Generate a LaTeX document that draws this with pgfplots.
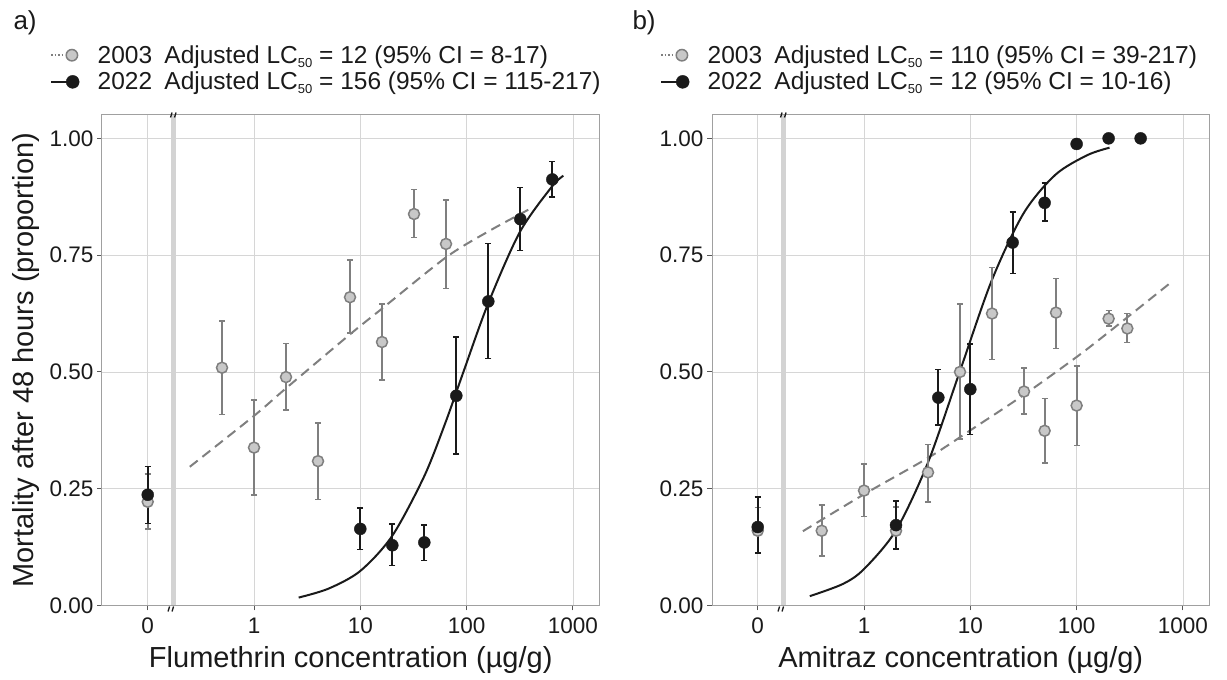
\documentclass[border=0pt]{standalone}
\usepackage{fontspec}
\setmainfont{Liberation Sans}
\usepackage{pgfplots}
\usepackage{pgfplotstable}
\pgfplotsset{compat=1.18}

\definecolor{ptgray}{HTML}{C8C8C8}
\definecolor{edgegray}{HTML}{7F7F7F}
\definecolor{gridgray}{HTML}{D6D6D6}
\definecolor{framegray}{HTML}{A0A0A0}
\definecolor{bandgray}{HTML}{D3D3D3}
\definecolor{ink}{HTML}{1A1A1A}

% ---------- data: x = concentration (0 plotted at 0.1), y, CI low, CI high
\pgfplotstableread{
x y lo hi
0.1 0.222 0.164 0.282
0.5 0.509 0.409 0.609
1 0.338 0.237 0.440
2 0.489 0.418 0.561
4 0.309 0.227 0.391
8 0.660 0.583 0.740
16 0.564 0.483 0.645
32 0.838 0.788 0.890
64 0.774 0.679 0.868
}\aOld
\pgfplotstableread{
x y lo hi
0.1 0.237 0.176 0.298
10 0.164 0.120 0.209
20 0.129 0.086 0.174
40 0.135 0.096 0.172
80 0.449 0.324 0.575
160 0.651 0.529 0.775
320 0.827 0.760 0.895
640 0.912 0.874 0.950
}\aNew
\pgfplotstableread{
x y lo hi
0.1 0.160 0.112 0.210
0.4 0.160 0.106 0.215
1 0.246 0.191 0.303
2 0.160 0.122 0.211
4 0.285 0.222 0.345
8 0.500 0.356 0.645
16 0.625 0.527 0.724
32 0.458 0.410 0.508
50 0.374 0.305 0.443
64 0.627 0.550 0.700
100 0.428 0.342 0.513
200 0.614 0.598 0.632
300 0.593 0.563 0.625
}\bOld
\pgfplotstableread{
x y lo hi
0.1 0.168 0.112 0.232
2 0.172 0.121 0.224
5 0.445 0.386 0.505
10 0.463 0.366 0.560
25 0.777 0.711 0.842
50 0.862 0.823 0.904
100 0.988 0.988 0.988
200 1.000 1.000 1.000
400 1.000 1.000 1.000
}\bNew
% fitted curves
\pgfplotstableread{
x y
0.249 0.297
1 0.406
2.0 0.465
8.05 0.581
16.1 0.636
63.8 0.745
158 0.800
394 0.849
}\aOldFit
\pgfplotstableread{
x y
2.63 0.017
5.01 0.036
10 0.074
19.95 0.149
39.8 0.276
63.1 0.391
93.3 0.500
158.5 0.645
316 0.799
631 0.896
813 0.920
}\aNewFit
\pgfplotstableread{
x y
0.266 0.159
1 0.238
4.07 0.317
10 0.375
32.4 0.452
100 0.532
200 0.585
776 0.692
}\bOldFit
\pgfplotstableread{
x y
0.309 0.020
0.631 0.046
1 0.078
2.0 0.161
3.98 0.305
7.94 0.500
15.85 0.695
31.6 0.839
63.1 0.922
125.9 0.964
204 0.980
}\bNewFit

\pgfplotsset{
  scale only axis, width=497.5pt, height=490.5pt,
  ymin=0, ymax=1.05,
  xtick={0.1,1,10,100,1000}, xticklabels={0,1,10,100,1000},
  ytick={0,0.25,0.5,0.75,1}, yticklabels={0.00,0.25,0.50,0.75,1.00},
  xminorticks=false, yminorticks=false,
  grid=major, major grid style={draw=gridgray, line width=0.8pt},
  axis line style={draw=framegray, line width=1pt},
  tick align=outside, major tick length=5pt,
  tick style={draw=black!65, line width=1pt},
  xtick pos=bottom, ytick pos=left,
  tick label style={font=\fontsize{22.5}{26}\selectfont, text=ink},
  xticklabel style={yshift=-3.5pt},
  label style={font=\fontsize{29}{33}\selectfont, text=ink},
  xlabel style={at={(axis description cs:0.5,0)}, anchor=center, yshift=-54.5pt},
  clip=false,
  legend style={at={(axis description cs:-0.1045,1.144)}, anchor=north west,
    draw=none, fill=none, font=\fontsize{24.5}{28}\selectfont,
    row sep=5.4pt, inner sep=0pt, legend cell align=left,
    nodes={inner xsep=1pt, inner ysep=1pt, text=ink}},
}

\newcommand{\breakmarks}{%
  \fill[bandgray] ([xshift=-2.6pt]axis cs:0.175,0) rectangle ([xshift=2.6pt]axis cs:0.175,1.05);
  \draw[ink, line width=1.3pt] ([xshift=-3pt,yshift=-2.5pt]axis cs:0.175,1.05) -- ([xshift=-1.5pt,yshift=2.5pt]axis cs:0.175,1.05);
  \draw[ink, line width=1.3pt] ([xshift=1pt,yshift=-2.5pt]axis cs:0.175,1.05) -- ([xshift=2.5pt,yshift=2.5pt]axis cs:0.175,1.05);
  \draw[ink, line width=1.3pt] ([xshift=-5.5pt,yshift=-6pt]axis cs:0.175,0) -- ([xshift=-4pt,yshift=-1pt]axis cs:0.175,0);
  \draw[ink, line width=1.3pt] ([xshift=-1.5pt,yshift=-6pt]axis cs:0.175,0) -- ([xshift=0pt,yshift=-1pt]axis cs:0.175,0);
}
\newcommand{\subfifty}{\raisebox{-0.3ex}{\fontsize{13}{13}\selectfont 50}}
\newcommand{\oldkeyimg}{\addlegendimage{legend image code/.code={%
      \draw[edgegray, line width=1.5pt, dash pattern=on 1.5pt off 2pt] (0pt,0pt) -- (12pt,0pt);
      \draw[draw=edgegray, fill=ptgray, line width=1.5pt] (20.7pt,0pt) circle (5.7pt);
      \path[draw=none, fill=none] (0pt,-1pt) rectangle (45.5pt,1pt);}}}
\newcommand{\newkeyimg}{\addlegendimage{legend image code/.code={%
      \draw[ink, line width=2pt] (0pt,0pt) -- (18pt,0pt);
      \fill[ink] (21.5pt,0pt) circle (6.5pt);
      \path[draw=none, fill=none] (0pt,-1pt) rectangle (45.5pt,1pt);}}}

\begin{document}
\begin{tikzpicture}
\useasboundingbox (0,0) rectangle (1227pt,680pt);

% ---------------- panel a
\begin{axis}[xmode=log, xmin=0.03715, xmax=1778.3,
  at={(102pt,74.5pt)}, anchor=south west,
  xlabel={Flumethrin concentration (µg/g)},
  ylabel={Mortality after 48 hours (proportion)},
  ylabel style={at={(axis description cs:0,0.5)}, anchor=center, yshift=76pt}]
\oldkeyimg
\addlegendentry{2003\hspace{0.5em}Adjusted LC\subfifty{} = 12 (95\% CI = 8-17)}
\newkeyimg
\addlegendentry{2022\hspace{0.5em}Adjusted LC\subfifty{} = 156 (95\% CI = 115-217)}
\breakmarks
\addplot[forget plot, no marks, smooth, draw=edgegray, line width=2pt, dash pattern=on 10pt off 6pt] table[x=x,y=y] {\aOldFit};
\addplot[forget plot, no marks, smooth, draw=ink, line width=2pt] table[x=x,y=y] {\aNewFit};
\addplot[forget plot, only marks, mark=*, mark size=5.5pt,
    mark options={fill=ptgray, draw=edgegray, line width=1.5pt},
    error bars/.cd, y dir=both, y explicit,
    error bar style={line width=2pt, draw=edgegray},
    error mark options={rotate=90, mark size=3pt, line width=1.5pt, draw=edgegray}]
  table[x=x, y=y, y error plus expr=\thisrow{hi}-\thisrow{y},
  y error minus expr=\thisrow{y}-\thisrow{lo}] {\aOld};
\addplot[forget plot, only marks, mark=*, mark size=6pt,
    mark options={fill=ink, draw=ink},
    error bars/.cd, y dir=both, y explicit,
    error bar style={line width=2pt, draw=ink},
    error mark options={rotate=90, mark size=3pt, line width=1.5pt, draw=ink}]
  table[x=x, y=y, y error plus expr=\thisrow{hi}-\thisrow{y},
  y error minus expr=\thisrow{y}-\thisrow{lo}] {\aNew};
\end{axis}

% ---------------- panel b
\begin{axis}[xmode=log, xmin=0.03715, xmax=1778.3,
  at={(712pt,74.5pt)}, anchor=south west,
  xlabel={Amitraz concentration (µg/g)}]
\oldkeyimg
\addlegendentry{2003\hspace{0.5em}Adjusted LC\subfifty{} = 110 (95\% CI = 39-217)}
\newkeyimg
\addlegendentry{2022\hspace{0.5em}Adjusted LC\subfifty{} = 12 (95\% CI = 10-16)}
\breakmarks
\addplot[forget plot, no marks, smooth, draw=edgegray, line width=2pt, dash pattern=on 10pt off 6pt] table[x=x,y=y] {\bOldFit};
\addplot[forget plot, no marks, smooth, draw=ink, line width=2pt] table[x=x,y=y] {\bNewFit};
\addplot[forget plot, only marks, mark=*, mark size=5.5pt,
    mark options={fill=ptgray, draw=edgegray, line width=1.5pt},
    error bars/.cd, y dir=both, y explicit,
    error bar style={line width=2pt, draw=edgegray},
    error mark options={rotate=90, mark size=3pt, line width=1.5pt, draw=edgegray}]
  table[x=x, y=y, y error plus expr=\thisrow{hi}-\thisrow{y},
  y error minus expr=\thisrow{y}-\thisrow{lo}] {\bOld};
\addplot[forget plot, only marks, mark=*, mark size=6pt,
    mark options={fill=ink, draw=ink},
    error bars/.cd, y dir=both, y explicit,
    error bar style={line width=2pt, draw=ink},
    error mark options={rotate=90, mark size=3pt, line width=1.5pt, draw=ink}]
  table[x=x, y=y, y error plus expr=\thisrow{hi}-\thisrow{y},
  y error minus expr=\thisrow{y}-\thisrow{lo}] {\bNew};
\end{axis}

\node[anchor=west, font=\fontsize{26}{30}\selectfont, text=ink] at (10pt,657pt) {a)};
\node[anchor=west, font=\fontsize{26}{30}\selectfont, text=ink] at (629pt,657pt) {b)};
\end{tikzpicture}
\end{document}
